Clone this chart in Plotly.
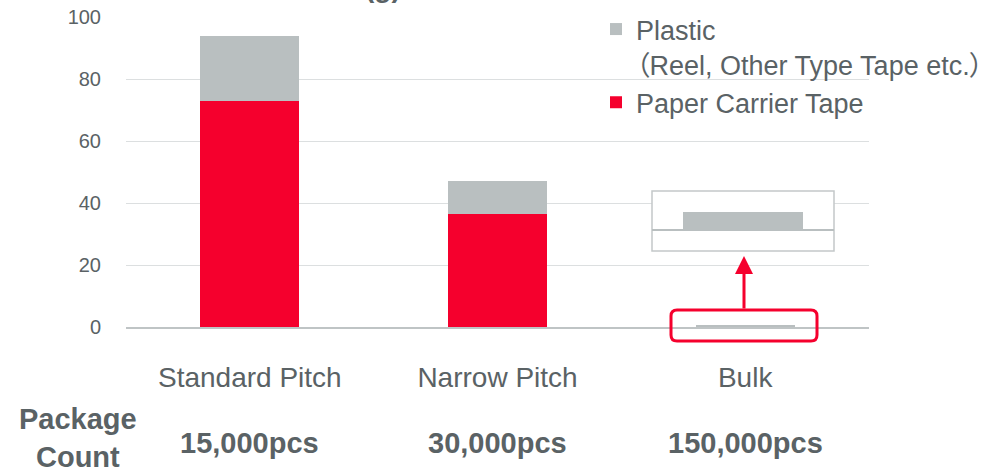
import plotly.graph_objects as go

categories = ["Standard Pitch", "Narrow Pitch", "Bulk"]
paper_tape = [73, 36.5, 0]
plastic = [21, 10.5, 0.7]
package_counts = ["15,000pcs", "30,000pcs", "150,000pcs"]
y_ticks = [0, 20, 40, 60, 80, 100]

RED = "#f5002d"
GRAY = "#b9bfc0"
TXT = "#5a6265"
FONT = "Liberation Sans, Arial, sans-serif"

W, H = 1000, 470
L, R, T, B = 126, 131, 17, 143
PW, PH = W - L - R, H - T - B


def px(x):
    return (x - L) / PW


def py(y):
    return (H - B - y) / PH


PALT = "font-family:Noto Sans CJK JP;font-feature-settings:'palt'"
plastic_name = (f'Plastic<br><span style="{PALT}">（</span>Reel, Other Type Tape etc.'
                f'<span style="{PALT}">）</span>')

fig = go.Figure()
fig.add_trace(go.Bar(x=categories, y=paper_tape, name="Paper Carrier Tape",
                     marker=dict(color=RED, line=dict(width=0)), width=0.4))
fig.add_trace(go.Bar(x=categories, y=plastic, name=plastic_name,
                     marker=dict(color=GRAY, line=dict(width=0)), width=0.4))

shapes = []
# inset box
shapes.append(dict(type="rect", xref="paper", yref="paper", x0=px(652), x1=px(834), y0=py(251), y1=py(191),
                   line=dict(color="#c3c8c9", width=1.5), fillcolor="white", layer="above"))
shapes.append(dict(type="rect", xref="paper", yref="paper", x0=px(683), x1=px(803), y0=py(229), y1=py(212),
                   line=dict(width=0), fillcolor=GRAY, layer="above"))
shapes.append(dict(type="line", xref="paper", yref="paper", x0=px(652), x1=px(834), y0=py(230), y1=py(230),
                   line=dict(color="#b9bfc0", width=2), layer="above"))


def rounded_rect(x0, y0, x1, y1, r):
    pts = [
        f"M{px(x0 + r)},{py(y0)}",
        f"L{px(x1 - r)},{py(y0)}",
        f"Q{px(x1)},{py(y0)} {px(x1)},{py(y0 + r)}",
        f"L{px(x1)},{py(y1 - r)}",
        f"Q{px(x1)},{py(y1)} {px(x1 - r)},{py(y1)}",
        f"L{px(x0 + r)},{py(y1)}",
        f"Q{px(x0)},{py(y1)} {px(x0)},{py(y1 - r)}",
        f"L{px(x0)},{py(y0 + r)}",
        f"Q{px(x0)},{py(y0)} {px(x0 + r)},{py(y0)}",
        "Z",
    ]
    return " ".join(pts)


shapes.append(dict(type="path", xref="paper", yref="paper", path=rounded_rect(671, 310, 817, 341, 6),
                   line=dict(color=RED, width=3), layer="above"))

annotations = []
# arrow
annotations.append(dict(xref="paper", yref="paper", x=px(744), y=py(256), ax=0, ay=54,
                        axref="pixel", ayref="pixel", showarrow=True, arrowhead=2, arrowsize=1.2,
                        arrowwidth=3, arrowcolor=RED, text=""))
# partial title (cut at the top edge, as in the reference)
annotations.append(dict(xref="paper", yref="paper", x=px(383), y=py(-13), text="<b>(g)</b>", showarrow=False,
                        font=dict(size=28, color=TXT, family=FONT), xanchor="center", yanchor="middle"))
annotations.append(dict(xref="paper", yref="paper", x=px(78), y=py(438), text="<b>Package<br>Count</b>",
                        showarrow=False, font=dict(size=29, color=TXT, family=FONT),
                        xanchor="center", yanchor="middle", align="center"))
for cat, cnt in zip(categories, package_counts):
    annotations.append(dict(xref="x", yref="paper", x=cat, y=py(443), text=f"<b>{cnt}</b>",
                            showarrow=False, font=dict(size=29, color=TXT, family=FONT),
                            xanchor="center", yanchor="middle"))

fig.update_layout(
    width=W, height=H,
    margin=dict(l=L, r=R, t=T, b=B, pad=0, autoexpand=False),
    barmode="stack",
    plot_bgcolor="white", paper_bgcolor="white",
    font=dict(family=FONT, color=TXT),
    showlegend=True,
    legend=dict(x=px(596), y=py(5), xanchor="left", yanchor="top", xref="paper", yref="paper",
                font=dict(size=27, color=TXT, family=FONT), valign="top", traceorder="reversed",
                bgcolor="rgba(0,0,0,0)", tracegroupgap=0, itemwidth=30),
    shapes=shapes,
    annotations=annotations,
)
fig.update_xaxes(showline=True, linecolor="#bfc4c5", linewidth=2, showgrid=False,
                 tickfont=dict(size=28, color=TXT), ticks="", ticklabelstandoff=24,
                 range=[-0.5, 2.5])
fig.update_yaxes(range=[0, 100], tickvals=y_ticks, showgrid=True, gridcolor="#dcdfe0", gridwidth=1,
                 zeroline=False, showline=False, tickfont=dict(size=20, color=TXT), ticks="",
                 ticklabelstandoff=24)

fig.write_html("out.html")
